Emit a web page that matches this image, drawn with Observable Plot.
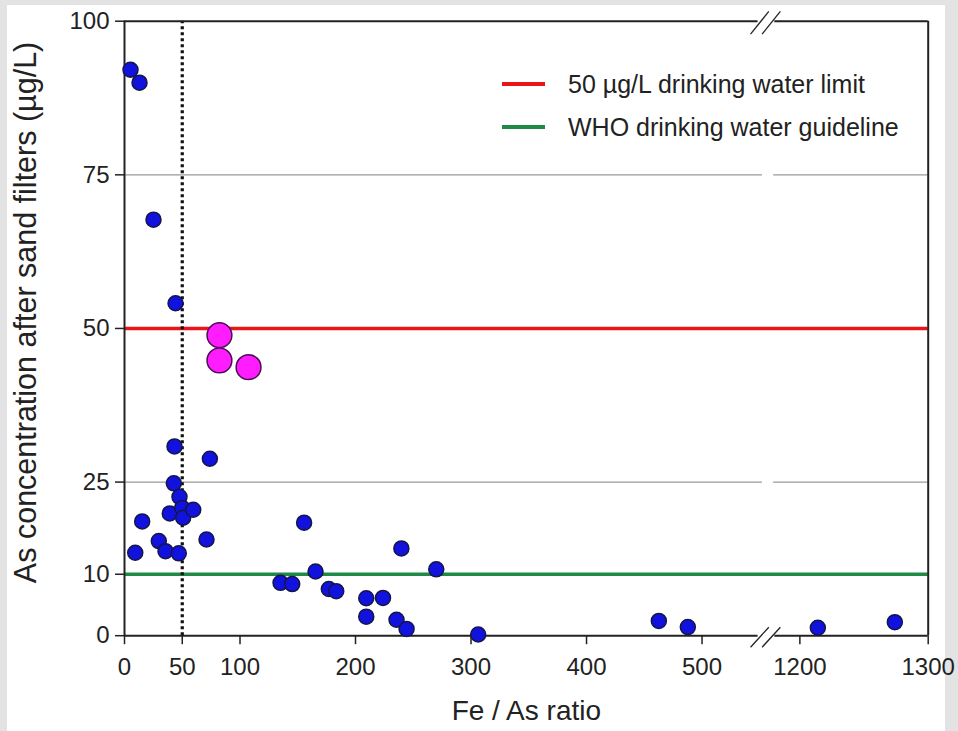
<!DOCTYPE html>
<html><head><meta charset="utf-8">
<script src="https://cdn.jsdelivr.net/npm/d3@7"></script>
<script src="https://cdn.jsdelivr.net/npm/@observablehq/plot@0.6"></script>
<style>
body{margin:0;background:#e3e3e3;width:958px;height:731px;overflow:hidden;position:relative;font-family:"Liberation Sans",Arial,sans-serif;}
#panel{position:absolute;left:7px;top:5px;width:938px;height:726px;background:#fff;}
#chart{position:absolute;left:0;top:0;}
.row{position:absolute;left:502px;height:30px;display:flex;align-items:center;font-size:25px;color:#222;white-space:nowrap;}
.sw{display:inline-block;width:43px;height:3.4px;margin-right:23px;}
</style></head><body>
<div id="panel"></div>
<div id="chart"></div>
<div class="row" style="top:69px"><span class="sw" style="background:#ea1419"></span><span>50 µg/L drinking water limit</span></div>
<div class="row" style="top:112px"><span class="sw" style="background:#1e8a45"></span><span>WHO drinking water guideline</span></div>
<script>
// Fe/As ratio and As concentration (µg/L) after sand filters
const ratioBlue = [5.2, 13.0, 25.1, 44.2, 43.3, 73.9, 42.7, 47.6, 39.2, 50.0, 50.8, 59.5, 15.3, 29.7, 35.5, 9.3, 47.0, 71.0,
  135.1, 145.2, 155.5, 165.4, 176.9, 183.3, 209.3, 209.3, 223.8, 235.5, 239.7, 244.2, 269.9, 306.2, 462.6, 487.7, 1214, 1274];
const asBlue = [92.1, 90.0, 67.7, 54.1, 30.8, 28.8, 24.8, 22.6, 19.9, 20.8, 19.2, 20.5, 18.6, 15.4, 13.75, 13.5, 13.4, 15.65,
  8.6, 8.4, 18.4, 10.45, 7.6, 7.25, 6.1, 3.1, 6.15, 2.6, 14.2, 1.1, 10.8, 0.2, 2.4, 1.4, 1.3, 2.2];
const ratioHigh = [82.2, 82.2, 107.4];
const asHigh = [48.9, 44.8, 43.7];
const xTickValues = [0, 50, 100, 200, 300, 400, 500, 1200, 1300];
const yTickValues = [0, 10, 25, 50, 75, 100];
const gridValues = [25, 75];
const limitValue = 50;
const guidelineValue = 10;
const thresholdRatio = 50;

// broken x axis: 0–~556 then 1200–1300
const BREAK_POS = 556.5, RIGHT_POS = 584.7, RIGHT_VAL = 1200, RIGHT_SLOPE = 1.111;
const pos = v => v < 1000 ? v : RIGHT_POS + (v - RIGHT_VAL) * RIGHT_SLOPE;
const inv = p => p <= BREAK_POS ? p : RIGHT_VAL + (p - RIGHT_POS) / RIGHT_SLOPE;
const XMAX = pos(1300);

const blue = ratioBlue.map((r, i) => ({r, a: asBlue[i]}));
const high = ratioHigh.map((r, i) => ({r, a: asHigh[i]}));

const font = '"Liberation Sans", Arial, sans-serif';
const ink = "#222";

const chart = Plot.plot({
  width: 958, height: 731,
  marginLeft: 124, marginRight: 30.3, marginTop: 20.7, marginBottom: 95.8,
  style: {background: "transparent", fontFamily: font, color: ink},
  x: {domain: [0, XMAX], axis: null},
  y: {domain: [0, 100], axis: null},
  marks: [
    Plot.ruleY(gridValues, {x1: 0, x2: BREAK_POS - 4.2, stroke: "#9a9a9a", strokeWidth: 1.3}),
    Plot.ruleY(gridValues, {x1: BREAK_POS + 5.5, x2: XMAX, stroke: "#9a9a9a", strokeWidth: 1.3}),
    Plot.ruleY([limitValue], {stroke: "#ea1419", strokeWidth: 3.5}),
    Plot.ruleY([guidelineValue], {stroke: "#1e8a45", strokeWidth: 3.5}),
    Plot.ruleX([thresholdRatio], {y1: 0, y2: 100, stroke: "#111", strokeWidth: 3.2, strokeDasharray: "3,3"}),
    // frame with breaks
    Plot.ruleX([0, XMAX], {y1: 0, y2: 100, stroke: ink, strokeWidth: 2}),
    Plot.ruleY([0, 100], {x1: 0, x2: BREAK_POS - 8, stroke: ink, strokeWidth: 2}),
    Plot.ruleY([0, 100], {x1: BREAK_POS + 6.5, x2: XMAX, stroke: ink, strokeWidth: 2}),
    Plot.link([-14.5, -4.5], {x1: d => BREAK_POS + d, x2: d => BREAK_POS + d + 15.8, y1: -1.87, y2: 1.38, stroke: ink, strokeWidth: 1.3}),
    Plot.link([-14.5, -4.5], {x1: d => BREAK_POS + d, x2: d => BREAK_POS + d + 15.8, y1: 97.9, y2: 101.6, stroke: ink, strokeWidth: 1.3}),
    // points
    Plot.dot(blue, {x: d => pos(d.r), y: "a", r: 7.5, fill: "#1212de", stroke: "#15154a", strokeWidth: 1.5}),
    Plot.dot(high, {x: d => pos(d.r), y: "a", r: 12.4, fill: "#ff1cff", stroke: "#4a0e55", strokeWidth: 1.5}),
    // axes
    Plot.axisX(xTickValues.map(pos), {tickFormat: p => String(Math.round(inv(p))), tickSize: 9, tickPadding: 13, fontSize: 24, stroke: ink, strokeWidth: 1.5, fill: ink, label: null}),
    Plot.axisY(yTickValues, {tickSize: 9, tickPadding: 6, fontSize: 24, stroke: ink, strokeWidth: 1.5, fill: ink, label: null}),
    Plot.text(["Fe / As ratio"], {frameAnchor: "bottom", dy: 84, fontSize: 28, fill: ink}),
    Plot.text(["As concentration after sand filters (µg/L)"], {frameAnchor: "left", textAnchor: "middle", dx: -98, dy: -16, rotate: -90, fontSize: 30.5, fill: ink})
  ]
});
document.getElementById("chart").appendChild(chart);
</script>
</body></html>
